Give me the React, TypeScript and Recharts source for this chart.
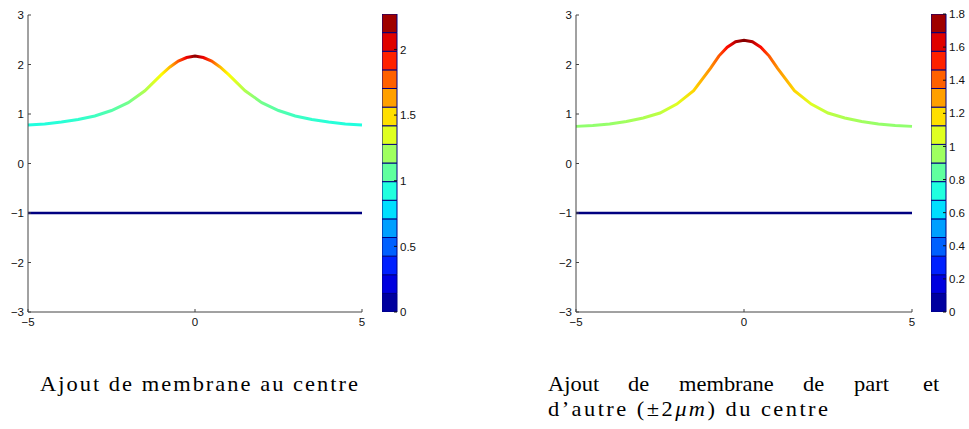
import React from "react";
import { Bar, BarChart, Line, LineChart, XAxis, YAxis } from "recharts";

// membrane abscissa (µm)
const xs = [-5, -4.5, -4, -3.5, -3, -2.5, -2, -1.5, -1, -0.75, -0.5, -0.25, 0, 0.25, 0.5, 0.75, 1, 1.5, 2, 2.5, 3, 3.5, 4, 4.5, 5];

// "Ajout de membrane au centre"
const centreY = [0.78, 0.8, 0.84, 0.89, 0.96, 1.07, 1.23, 1.47, 1.8, 1.95, 2.07, 2.14, 2.17, 2.14, 2.07, 1.95, 1.8, 1.47, 1.23, 1.07, 0.96, 0.89, 0.84, 0.8, 0.78];
const centreC = [0.92, 0.93, 0.94, 0.96, 0.99, 1.04, 1.11, 1.24, 1.42, 1.58, 1.8, 2.02, 2.25, 2.02, 1.8, 1.58, 1.42, 1.24, 1.11, 1.04, 0.99, 0.96, 0.94, 0.93, 0.92];

// "Ajout de membrane de part et d'autre"
const sidesY = [0.75, 0.77, 0.8, 0.85, 0.92, 1.02, 1.2, 1.47, 1.92, 2.17, 2.35, 2.46, 2.49, 2.46, 2.35, 2.17, 1.92, 1.47, 1.2, 1.02, 0.92, 0.85, 0.8, 0.77, 0.75];
const sidesC = [0.93, 0.93, 0.94, 0.96, 0.98, 1.01, 1.07, 1.2, 1.32, 1.42, 1.56, 1.7, 1.8, 1.7, 1.56, 1.42, 1.32, 1.2, 1.07, 1.01, 0.98, 0.96, 0.94, 0.93, 0.93];

// flat lower membrane
const baseX = [-5, 5];
const baseY = [-1, -1];

const xTicks = [-5, 0, 5];
const yTicks = [-3, -2, -1, 0, 1, 2, 3];

const centreCMax = 2.27;
const sidesCMax = 1.8;
const centreBarTicks = [0, 0.5, 1, 1.5, 2];
const sidesBarTicks = [0, 0.2, 0.4, 0.6, 0.8, 1, 1.2, 1.4, 1.6, 1.8];

const captionCentre = "Ajout de membrane au centre";
const captionSidesWords = ["Ajout", "de", "membrane", "de", "part", "et"];
const captionSidesWordX = [548, 628, 679, 803, 854, 923];

const BANDS = 16;
const AXIS = "#444";
const NAVY = "#000080";
const FONT = "'Liberation Sans', Arial, sans-serif";
const STRETCH = 1.07; // widen the Times glyphs a bit toward Computer Modern

const jet = (t: number) => {
  const c = (v: number) => Math.round(255 * Math.max(0, Math.min(1, v)));
  return `rgb(${c(1.5 - Math.abs(4 * t - 3))},${c(1.5 - Math.abs(4 * t - 2))},${c(1.5 - Math.abs(4 * t - 1))})`;
};

const minus = (v: number) => String(v).replace("-", "\u2212");

const LeftTick = (props: any) => {
  const { x, y, payload } = props;
  return (
    <g>
      <line x1={x + 4} x2={x + 7} y1={y} y2={y} stroke={AXIS} />
      <text x={x} y={y} dy="0.36em" textAnchor="end" fontSize={11.5} fontFamily={FONT} fill="#111">
        {minus(payload.value)}
      </text>
    </g>
  );
};

const BottomTick = (props: any) => {
  const { x, y, payload } = props;
  return (
    <g>
      <line x1={x} x2={x} y1={y - 6} y2={y - 9} stroke={AXIS} />
      <text x={x} y={y} dy="0.71em" textAnchor="middle" fontSize={11.5} fontFamily={FONT} fill="#111">
        {minus(payload.value)}
      </text>
    </g>
  );
};

const BarTick = (props: any) => {
  const { x, y, payload } = props;
  return (
    <g>
      <line x1={x - 3} x2={x - 6} y1={y} y2={y} stroke="#111" />
      <text x={x} y={y} dy="0.36em" textAnchor="start" fontSize={11.5} fontFamily={FONT} fill="#111">
        {payload.value}
      </text>
    </g>
  );
};

type PanelProps = {
  id: string;
  ys: number[];
  cs: number[];
  cmax: number;
  left: number;
  width: number;
};

function Panel({ id, ys, cs, cmax, left, width }: PanelProps) {
  const curve = xs.map((x, i) => ({ x, y: ys[i] }));
  const base = baseX.map((x, i) => ({ x, y: baseY[i] }));
  const span = xs[xs.length - 1] - xs[0];
  return (
    <div style={{ position: "absolute", left, top: 0 }}>
      <LineChart width={width} height={330} margin={{ top: 15, right: 8, bottom: 0, left: 0 }}>
        <defs>
          <linearGradient id={id} x1="0" y1="0" x2="1" y2="0">
            {xs.map((x, i) => (
              <stop key={i} offset={(x - xs[0]) / span} stopColor={jet(cs[i] / cmax)} />
            ))}
          </linearGradient>
        </defs>
        <XAxis
          dataKey="x"
          type="number"
          domain={[-5, 5]}
          ticks={xTicks}
          height={18}
          tickSize={0}
          tickMargin={6}
          tickLine={false}
          axisLine={{ stroke: AXIS }}
          tick={<BottomTick />}
          allowDuplicatedCategory={false}
        />
        <YAxis
          dataKey="y"
          type="number"
          domain={[-3, 3]}
          ticks={yTicks}
          width={28}
          tickSize={0}
          tickMargin={4}
          tickLine={false}
          axisLine={{ stroke: AXIS }}
          tick={<LeftTick />}
        />
        <Line
          data={base}
          dataKey="y"
          type="linear"
          stroke={NAVY}
          strokeWidth={2.5}
          dot={false}
          isAnimationActive={false}
        />
        <Line
          data={curve}
          dataKey="y"
          type="linear"
          stroke={`url(#${id})`}
          strokeWidth={3}
          dot={false}
          isAnimationActive={false}
        />
      </LineChart>
    </div>
  );
}

type ColorbarProps = { cmax: number; ticks: number[]; left: number; width: number };

function Colorbar({ cmax, ticks, left, width }: ColorbarProps) {
  const row: Record<string, number | string> = { name: "c" };
  for (let i = 0; i < BANDS; i++) row[`b${i}`] = cmax / BANDS;
  return (
    <div style={{ position: "absolute", left, top: 0 }}>
      <BarChart
        width={width}
        height={330}
        data={[row]}
        margin={{ top: 14, right: 0, bottom: 18, left: 0 }}
        barCategoryGap={0}
      >
        <XAxis dataKey="name" hide />
        <YAxis
          orientation="right"
          type="number"
          domain={[0, cmax]}
          ticks={ticks}
          width={width - 15}
          tickSize={0}
          tickMargin={3}
          tickLine={false}
          axisLine={false}
          tick={<BarTick />}
          allowDataOverflow
        />
        {Array.from({ length: BANDS }, (_, i) => (
          <Bar
            key={i}
            dataKey={`b${i}`}
            stackId="cb"
            fill={jet((i + 0.5) / BANDS)}
            stroke={NAVY}
            strokeWidth={1}
            isAnimationActive={false}
          />
        ))}
      </BarChart>
    </div>
  );
}

export default function App() {
  const s = STRETCH;
  return (
    <div style={{ position: "absolute", left: 0, top: 0, width: 969, height: 429, background: "#fff" }}>
      <Panel id="grad-centre" ys={centreY} cs={centreC} cmax={centreCMax} left={0} width={370} />
      <Colorbar cmax={centreCMax} ticks={centreBarTicks} left={382} width={45} />
      <Panel id="grad-sides" ys={sidesY} cs={sidesC} cmax={sidesCMax} left={548} width={372} />
      <Colorbar cmax={sidesCMax} ticks={sidesBarTicks} left={931} width={38} />
      <svg
        width={969}
        height={429}
        style={{ position: "absolute", left: 0, top: 0, pointerEvents: "none" }}
        fontFamily="'Liberation Serif', 'Times New Roman', serif"
        fontSize={21}
      >
        <g transform={`scale(${s},1)`}>
          <text x={40 / s} y={391} textLength={318 / s} lengthAdjust="spacing">
            {captionCentre}
          </text>
          <text y={391}>
            {captionSidesWords.map((w, i) => (
              <tspan key={i} x={captionSidesWordX[i] / s}>
                {w}
              </tspan>
            ))}
          </text>
          <text x={548 / s} y={416} textLength={280 / s} lengthAdjust="spacing">
            d’autre (±2<tspan fontStyle="italic">μm</tspan>) du centre
          </text>
        </g>
      </svg>
    </div>
  );
}
